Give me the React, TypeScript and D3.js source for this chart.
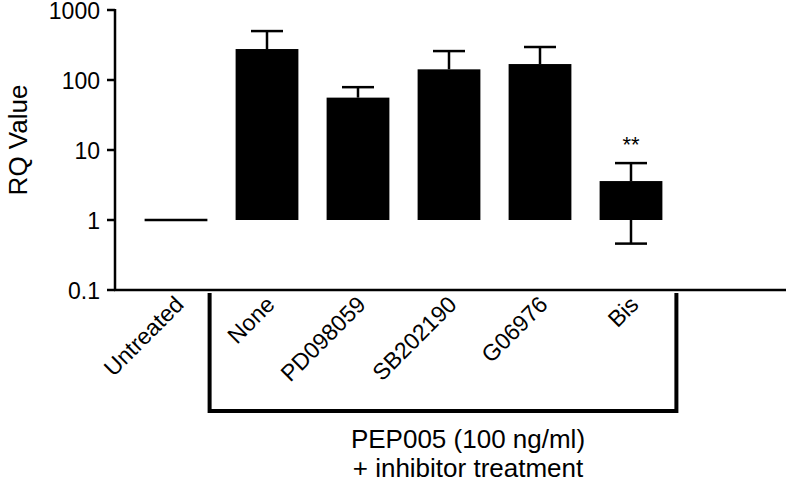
import React from "react";
import { scaleBand, scaleLog } from "d3";

const categories = ["Untreated", "None", "PD098059", "SB202190", "G06976", "Bis"];
const means = [1, 277, 56, 142, 169, 3.6];
const errTop = [1, 500, 79, 259, 296, 6.5];
const errBottom = [1, 277, 56, 142, 169, 0.46];
const yTicks = [0.1, 1, 10, 100, 1000];
const yTickLabels = ["0.1", "1", "10", "100", "1000"];
const bracketGroup = ["None", "Bis"];

const W = 786;
const H = 490;
const FONT = "'Liberation Sans', Arial, Helvetica, sans-serif";

const App = () => {
  const axisX = 115;
  const y = scaleLog().domain([0.1, 1000]).range([290, 10]);
  const x = scaleBand()
    .domain(categories)
    .range([130.5, 676.5])
    .paddingInner(0.31)
    .paddingOuter(0.155);
  const bw = x.bandwidth();
  const base = y(1);
  const capW = 32;

  const brLeft = x(bracketGroup[0]) - 26;
  const brRight = x(bracketGroup[1]) + bw + 14;

  return (
    <svg width={W} height={H} style={{ position: "absolute", left: 0, top: 0 }} fontFamily={FONT}>
      {/* y axis */}
      <line x1={axisX} x2={axisX} y1={y(1000) - 1} y2={y(0.1) + 1} stroke="#000" strokeWidth={2.5} />
      {yTicks.map((t, i) => (
        <g key={t}>
          <line x1={axisX - 8} x2={axisX} y1={y(t)} y2={y(t)} stroke="#000" strokeWidth={2.5} />
          <text x={axisX - 15} y={y(t) + 9} textAnchor="end" fontSize={23}>
            {yTickLabels[i]}
          </text>
        </g>
      ))}
      <text transform={`translate(27,140) rotate(-90)`} textAnchor="middle" fontSize={26}>
        RQ Value
      </text>

      {/* x axis */}
      <line x1={axisX - 1} x2={W} y1={y(0.1)} y2={y(0.1)} stroke="#000" strokeWidth={2.5} />

      {/* bars */}
      {categories.map((c, i) => {
        const cx = x(c) + bw / 2;
        if (means[i] === 1) {
          return <line key={c} x1={x(c)} x2={x(c) + bw} y1={base} y2={base} stroke="#000" strokeWidth={2.5} />;
        }
        return (
          <g key={c}>
            <line x1={cx} x2={cx} y1={y(errTop[i])} y2={y(means[i])} stroke="#000" strokeWidth={2.5} />
            <line x1={cx - capW / 2} x2={cx + capW / 2} y1={y(errTop[i])} y2={y(errTop[i])} stroke="#000" strokeWidth={2.5} />
            {errBottom[i] < 1 && (
              <g>
                <line x1={cx} x2={cx} y1={base} y2={y(errBottom[i])} stroke="#000" strokeWidth={2.5} />
                <line x1={cx - capW / 2} x2={cx + capW / 2} y1={y(errBottom[i])} y2={y(errBottom[i])} stroke="#000" strokeWidth={2.5} />
              </g>
            )}
            <rect x={x(c)} y={y(means[i])} width={bw} height={base - y(means[i])} fill="#000" />
          </g>
        );
      })}
      <text x={x("Bis") + bw / 2} y={y(errTop[5]) - 11} textAnchor="middle" fontSize={22}>
        **
      </text>

      {/* category labels */}
      {categories.map((c) => (
        <text
          key={c}
          transform={`translate(${x(c) + bw / 2 + 9},${y(0.1) + 16}) rotate(-45)`}
          textAnchor="end"
          fontSize={23}
        >
          {c}
        </text>
      ))}

      {/* bracket */}
      <path
        d={`M${brLeft},${y(0.1) + 3}V411H${brRight}V${y(0.1) + 3}`}
        fill="none"
        stroke="#000"
        strokeWidth={4}
      />
      <text x={468} y={448} textAnchor="middle" fontSize={26}>
        PEP005 (100 ng/ml)
      </text>
      <text x={468} y={477} textAnchor="middle" fontSize={26}>
        + inhibitor treatment
      </text>
    </svg>
  );
};

export default App;
